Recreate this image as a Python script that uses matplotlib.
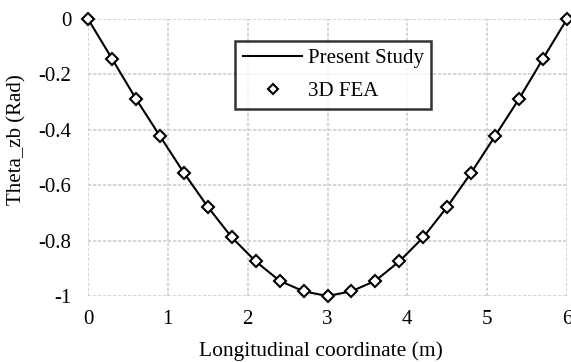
import numpy as np
import matplotlib.pyplot as plt

plt.rcParams['font.family'] = ['Liberation Serif', 'DejaVu Serif']

# Data
x_fea = [0.0, 0.3, 0.6, 0.9, 1.2, 1.5, 1.8, 2.1, 2.4, 2.7, 3.0,
         3.3, 3.6, 3.9, 4.2, 4.5, 4.8, 5.1, 5.4, 5.7, 6.0]
theta_fea = [0.0, -0.143, -0.288, -0.422, -0.555, -0.678, -0.788, -0.875, -0.945, -0.983, -1.0,
             -0.983, -0.945, -0.875, -0.788, -0.678, -0.555, -0.422, -0.288, -0.143, 0.0]
x_study = x_fea
theta_study = theta_fea

fig = plt.figure(figsize=(5.71, 3.62), dpi=100)
ax = fig.add_axes([88/571, 1 - 296/362, (567-88)/571, (296-19)/362])

ax.plot(x_study, theta_study, color='black', lw=1.5, label='Present Study', zorder=3)
ax.plot(x_fea, theta_fea, ls='none', marker='D', ms=6.5, mfc='white', mec='black',
        mew=1.5, label='3D FEA', zorder=4, clip_on=False)

ax.set_xlim(0, 6)
ax.set_ylim(-1, 0)
ax.set_xticks(np.arange(0, 7, 1))
ax.set_yticks([0, -0.2, -0.4, -0.6, -0.8, -1])
ax.set_yticklabels(['0', '-0.2', '-0.4', '-0.6', '-0.8', '-1'])
ax.grid(True, color='#cfcfcf', lw=1.2, ls=(0, (2, 1)))
ax.set_axisbelow(True)
for s in ax.spines.values():
    s.set_visible(False)
ax.tick_params(length=0, labelsize=15)
ax.tick_params(axis='y', pad=12)
ax.tick_params(axis='x', pad=10)

ax.set_xlabel('Longitudinal coordinate (m)', fontsize=15.5)
ax.xaxis.set_label_coords(0.486, -0.165)
ax.set_ylabel('Theta_zb (Rad)', fontsize=15)
ax.yaxis.set_label_coords(-0.128, 0.563)

leg = ax.legend(loc='upper left', bbox_to_anchor=((235-88)/479, 1 - (41-19)/277),
                fontsize=15, frameon=True, fancybox=False, handlelength=2.85,
                borderpad=0.38, labelspacing=0.62, handletextpad=0.25, borderaxespad=0,
                markerscale=0.75)
leg.get_frame().set_edgecolor('black')
leg.get_frame().set_linewidth(1.8)

fig.savefig('out.png', dpi=100)
